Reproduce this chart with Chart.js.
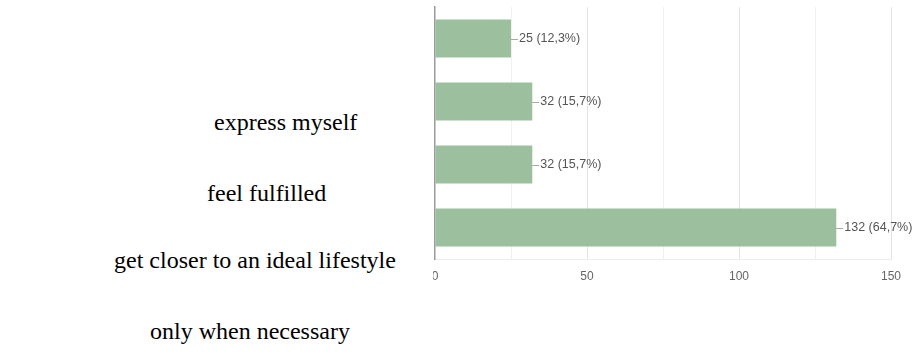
<!DOCTYPE html>
<html>
<head>
<meta charset="utf-8">
<script src="https://cdn.jsdelivr.net/npm/chart.js@4.4.0/dist/chart.umd.min.js"></script>
<style>
body { margin: 0; background: #fff; width: 923px; height: 362px; overflow: hidden; position: relative; }
#clip { position: absolute; left: 433px; top: 0; width: 490px; height: 362px; overflow: hidden; }
#wrap { position: absolute; left: -40px; top: 0; width: 530px; height: 362px; }
.lbl { position: absolute; font: 24px "Liberation Serif", "Times New Roman", serif; line-height: 24px; white-space: nowrap; color: #000; }
</style>
</head>
<body>
<div id="clip"><div id="wrap"><canvas id="chart"></canvas></div></div>
<div id="labels"></div>
<script>
// answers and counts
var categories = ['express myself', 'feel fulfilled', 'get closer to an ideal lifestyle', 'only when necessary'];
var counts = [25, 32, 32, 132];
var percents = ['12,3%', '15,7%', '15,7%', '64,7%'];
var xMax = 150;

// where the loose text labels sit on the page (left, top)
var labelPos = [[214, 110], [207, 181], [114, 248], [150, 319]];

var box = document.getElementById('labels');
categories.forEach(function (c, i) {
    var d = document.createElement('div');
    d.className = 'lbl';
    d.textContent = c;
    d.style.left = labelPos[i][0] + 'px';
    d.style.top = labelPos[i][1] + 'px';
    box.appendChild(d);
});

// draws the little leader line and "n (p%)" after each bar
var valueLabels = {
    id: 'valueLabels',
    afterDatasetsDraw: function (chart) {
        var ctx = chart.ctx;
        var meta = chart.getDatasetMeta(0);
        ctx.save();
        meta.data.forEach(function (bar, i) {
            var y = Math.round(bar.y) + 0.5;
            ctx.strokeStyle = '#a8a8a8';
            ctx.lineWidth = 1;
            ctx.beginPath();
            ctx.moveTo(bar.x, y);
            ctx.lineTo(bar.x + 7, y);
            ctx.stroke();
            ctx.fillStyle = '#555';
            ctx.font = '12.5px "Liberation Sans", Arial, sans-serif';
            ctx.textBaseline = 'middle';
            ctx.fillText(counts[i] + ' (' + percents[i] + ')', bar.x + 8, bar.y);
        });
        ctx.restore();
    }
};

var ctx = document.getElementById('chart').getContext('2d');
var chart = new Chart(ctx, {
    type: 'bar',
    data: {
        labels: categories,
        datasets: [{
            data: counts,
            backgroundColor: '#9cbf9d',
            borderWidth: 0,
            barPercentage: 0.6,
            categoryPercentage: 1
        }]
    },
    options: {
        indexAxis: 'y',
        responsive: true,
        maintainAspectRatio: false,
        animation: false,
        layout: { padding: { left: 42, right: 32, top: 7, bottom: 68.6 } },
        plugins: { legend: { display: false }, tooltip: { enabled: false } },
        scales: {
            x: {
                min: 0,
                max: xMax,
                ticks: {
                    stepSize: 25,
                    padding: 10,
                    color: '#666',
                    font: { size: 12, family: '"Liberation Sans", Arial, sans-serif' },
                    callback: function (v) { return v % 50 === 0 ? v : ''; }
                },
                grid: {
                    drawTicks: false,
                    color: function (c) {
                        if (c.tick.value === 0) return 'rgba(0,0,0,0)';
                        return c.tick.value % 50 === 0 ? '#e4e4e4' : '#f1f1f1';
                    }
                },
                border: { display: true, color: '#ececec' }
            },
            y: {
                ticks: { display: false },
                grid: { drawOnChartArea: false, drawTicks: false },
                border: { display: true, color: '#9a9a9a', width: 1.5 }
            }
        }
    },
    plugins: [valueLabels]
});
</script>
</body>
</html>
